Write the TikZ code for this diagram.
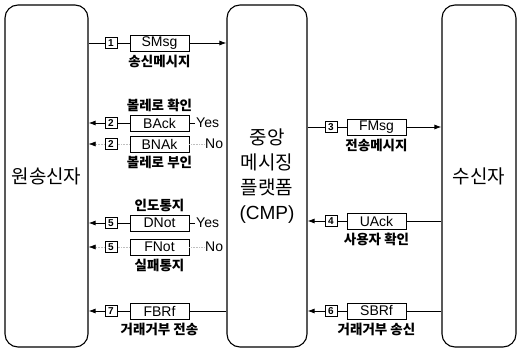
\documentclass[tikz,border=0pt]{standalone}
\usepackage{fontspec}
\setmainfont{Liberation Sans}
\newfontfamily\kr{Noto Sans CJK KR}
\usetikzlibrary{arrows.meta,positioning}
\tikzset{
    party/.style={draw, line width=1.1pt, rounded corners=13pt, minimum height=342pt, inner sep=0pt, align=center, font=\kr\fontsize{19}{25}\selectfont},
    msgbox/.style={draw, line width=0.9pt, minimum width=59pt, minimum height=16pt, inner sep=0pt, font=\fontsize{14}{14}\selectfont},
    numbox/.style={draw, line width=0.9pt, minimum width=12pt, minimum height=11pt, inner sep=0pt, font=\bfseries\fontsize{10}{10}\selectfont},
    krlabel/.style={inner sep=1pt, font=\kr\bfseries\fontsize{13.5}{13.5}\selectfont},
    answer/.style={inner sep=1pt, anchor=west, font=\fontsize{14}{14}\selectfont},
    flow/.style={line width=0.9pt},
    faint/.style={draw=black!25, densely dotted, line width=0.6pt},
    tip/.style={-{Latex[length=7pt,width=5pt,color=black]}},
}
\begin{document}
\begin{tikzpicture}[x=1pt, y=-1pt]
    \useasboundingbox (0,0) rectangle (520,353);
    \node[party, minimum width=83pt] (snd) at (46.5,176) {원송신자};
    \node[party, minimum width=80pt] (cmp) at (267,176) {중앙\\메시징\\플랫폼\\{\fontspec{Liberation Sans}(CMP)}};
    \node[party, minimum width=74pt] (rcv) at (479,176) {수신자};

    \node[numbox] (n1) at (111,43) {1};
    \node[msgbox] (smsg) at (159.5,43) {SMsg};
    \node[krlabel, below=2pt of smsg] (smsgl) {송신메시지};
    \draw[flow] (n1 -| snd.east) -- (n1) -- (smsg);
    \draw[flow, tip] (smsg) -- (smsg -| cmp.west);

    \node[numbox] (n2a) at (111,123) {2};
    \node[msgbox] (back) at (159.5,123) {BAck};
    \node[krlabel, above=2pt of back] (backl) {볼레로 확인};
    \node[answer] (yes2) at (195,123) {Yes};
    \draw[flow, tip] (n2a) -- (n2a -| snd.east);
    \draw[flow] (back) -- (n2a);
    \draw[flow] (back) -- (yes2);

    \node[numbox] (n2b) at (111,144) {2};
    \node[msgbox] (bnak) at (159.5,144) {BNAk};
    \node[krlabel, below=2pt of bnak] (bnakl) {볼레로 부인};
    \node[answer] (no2) at (204,144) {No};
    \draw[faint, tip] (n2b) -- (n2b -| snd.east);
    \draw[faint] (bnak) -- (n2b);
    \draw[faint] (bnak) -- (no2);

    \node[numbox] (n5a) at (111,223) {5};
    \node[msgbox] (dnot) at (159.5,223) {DNot};
    \node[krlabel, above=2pt of dnot] (dnotl) {인도통지};
    \node[answer] (yes5) at (195,223) {Yes};
    \draw[flow, tip] (n5a) -- (n5a -| snd.east);
    \draw[flow] (dnot) -- (n5a);
    \draw[flow] (dnot) -- (yes5);

    \node[numbox] (n5b) at (111,247) {5};
    \node[msgbox] (fnot) at (159.5,247) {FNot};
    \node[krlabel, below=2pt of fnot] (fnotl) {실패통지};
    \node[answer] (no5) at (204,247) {No};
    \draw[faint, tip] (n5b) -- (n5b -| snd.east);
    \draw[faint] (fnot) -- (n5b);
    \draw[faint] (fnot) -- (no5);

    \node[numbox] (n7) at (111,311) {7};
    \node[msgbox] (fbrf) at (159.5,311) {FBRf};
    \node[krlabel, below=2pt of fbrf] (fbrfl) {거래거부 전송};
    \draw[flow, tip] (n7) -- (n7 -| snd.east);
    \draw[flow] (fbrf -| cmp.west) -- (fbrf) -- (n7);

    \node[numbox] (n3) at (331,127) {3};
    \node[msgbox] (fmsg) at (376.5,127) {FMsg};
    \node[krlabel, below=2pt of fmsg] (fmsgl) {전송메시지};
    \draw[flow] (n3 -| cmp.east) -- (n3) -- (fmsg);
    \draw[flow, tip] (fmsg) -- (fmsg -| rcv.west);

    \node[numbox] (n4) at (331,221) {4};
    \node[msgbox] (uack) at (376.5,221) {UAck};
    \node[krlabel, below=2pt of uack] (uackl) {사용자 확인};
    \draw[flow, tip] (n4) -- (n4 -| cmp.east);
    \draw[flow] (uack -| rcv.west) -- (uack) -- (n4);

    \node[numbox] (n6) at (331,311) {6};
    \node[msgbox] (sbrf) at (376.5,311) {SBRf};
    \node[krlabel, below=2pt of sbrf] (sbrfl) {거래거부 송신};
    \draw[flow, tip] (n6) -- (n6 -| cmp.east);
    \draw[flow] (sbrf -| rcv.west) -- (sbrf) -- (n6);
\end{tikzpicture}
\end{document}
